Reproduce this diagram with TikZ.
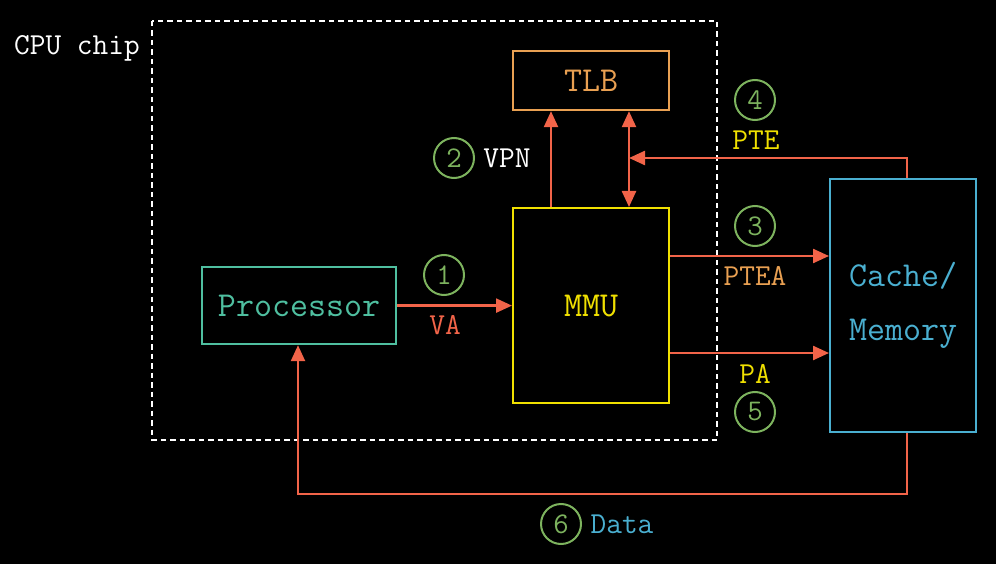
\documentclass[tikz,border=0pt]{standalone}
\usetikzlibrary{arrows.meta}
\definecolor{tlbc}{HTML}{E9A052}
\definecolor{procc}{HTML}{4FBFA0}
\definecolor{mmuc}{HTML}{F0E000}
\definecolor{memc}{HTML}{4AAFD0}
\definecolor{arrc}{HTML}{F26449}
\definecolor{numc}{HTML}{7DB35E}
\begin{document}
\begin{tikzpicture}[x=1pt,y=-1pt,
  box/.style={draw, line width=2.2pt, inner sep=0pt, anchor=north west},
  big/.style={font=\ttfamily\fontsize{35}{42}\selectfont},
  small/.style={font=\ttfamily\fontsize{30.5}{34}\selectfont},
  num/.style={circle, draw=numc, line width=2pt, minimum size=40pt, inner sep=0pt, text=numc, font=\ttfamily\fontsize{30}{34}\selectfont},
  conn/.style={draw=arrc, line width=2.4pt, -{Triangle[length=16pt,width=14pt]}},
  dconn/.style={draw=arrc, line width=2.4pt, {Triangle[length=16pt,width=14pt]}-{Triangle[length=16pt,width=14pt]}},
]
\fill[black] (0,0) rectangle (996,564);
\useasboundingbox (0,0) rectangle (996,564);

% CPU chip
\draw[white, line width=2.4pt, dash pattern=on 5.5pt off 4pt] (152,21) rectangle (717,440);
\node[small, text=white] (cpu) at (77,48) {CPU chip};

% boxes
\node[box, draw=tlbc, minimum width=156pt, minimum height=59pt] (tlb) at (512,50) {};
\node[big, text=tlbc] at (tlb.center) {TLB};
\node[box, draw=procc, minimum width=194pt, minimum height=77pt] (proc) at (201,266) {};
\node[big, text=procc] at (proc.center) {Processor};
\node[box, draw=mmuc, minimum width=156pt, minimum height=195pt] (mmu) at (512,207) {};
\node[big, text=mmuc] at (mmu.center) {MMU};
\node[box, draw=memc, minimum width=146pt, minimum height=253pt] (mem) at (829,178) {};
\node[big, text=memc, align=center] at ([yshift=0pt]mem.center) {Cache/\\[12pt]Memory};

% connectors
\draw[conn] (proc.east) -- (mmu.west);
\draw[conn] (mmu.north -| 551,0) -- (tlb.south -| 551,0);
\draw[dconn] (tlb.south -| 629,0) -- (mmu.north -| 629,0);
\coordinate (pteend) at (629,158);
\draw[conn] (mem.north -| 907,0) |- (pteend);
\draw[conn] (mmu.east |- 0,256) -- (mem.west |- 0,256);
\draw[conn] (mmu.east |- 0,353) -- (mem.west |- 0,353);
\coordinate (dcorner) at (298,494);
\draw[conn] (mem.south -| 907,0) |- (dcorner) -- (proc.south -| 298,0);

% labels
\node[small, text=arrc] (va) at (445,325) {VA};
\node[small, text=white] (vpn) at (507,158) {VPN};
\node[small, text=mmuc] (pte) at (756,140) {PTE};
\node[small, text=tlbc] (ptea) at (755,276) {PTEA};
\node[small, text=mmuc] (pa) at (755,374) {PA};
\node[small, text=memc] (data) at (622,524) {Data};

% numbers
\node[num] (n1) at (444,275) {1};
\node[num] (n2) at (454,158) {2};
\node[num] (n3) at (755,226) {3};
\node[num] (n4) at (755,100) {4};
\node[num] (n5) at (755,412) {5};
\node[num] (n6) at (561,524) {6};
\end{tikzpicture}
\end{document}
